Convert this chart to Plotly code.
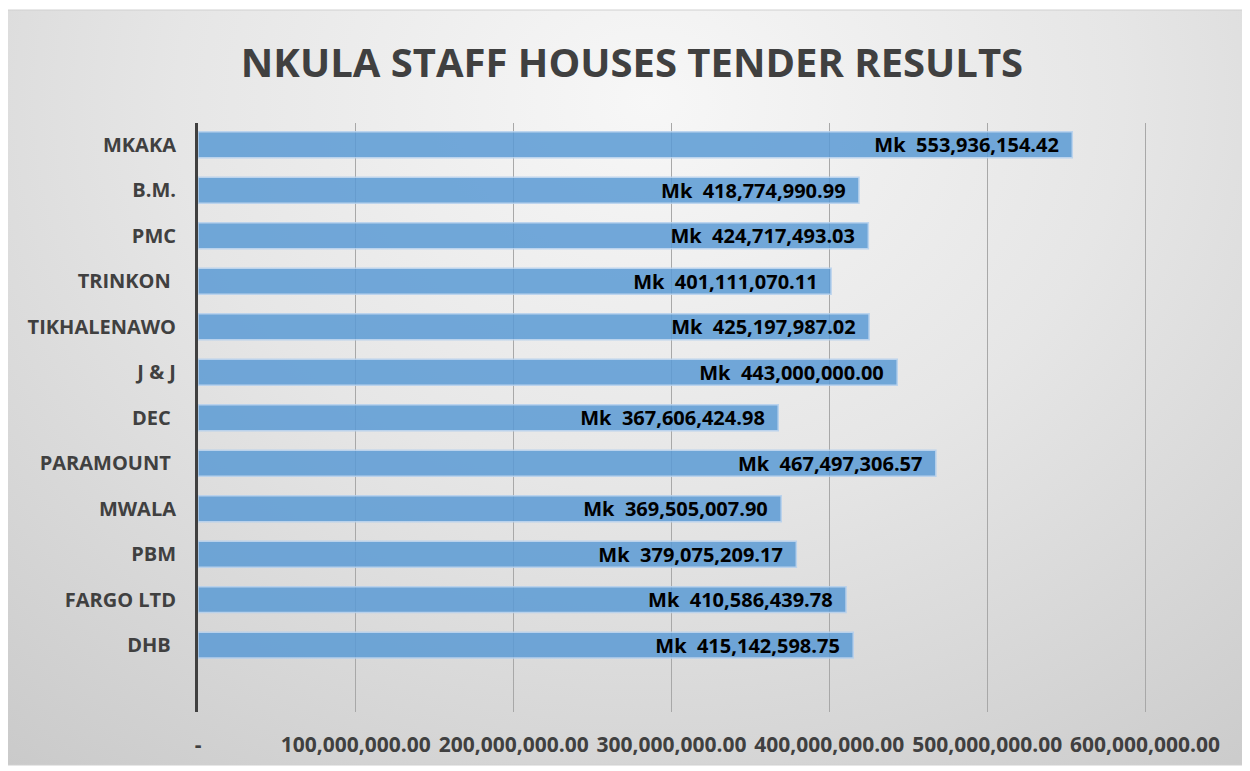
import base64
import plotly.graph_objects as go

# Tender results (Malawi kwacha)
companies = ["MKAKA", "B.M.", "PMC", "TRINKON\u00a0", "TIKHALENAWO", "J & J", "DEC\u00a0",
             "PARAMOUNT\u00a0", "MWALA", "PBM", "FARGO LTD", "DHB\u00a0"]
amounts = [553936154.42, 418774990.99, 424717493.03, 401111070.11, 425197987.02, 443000000.00,
           367606424.98, 467497306.57, 369505007.90, 379075209.17, 410586439.78, 415142598.75]
tick_vals = [0, 100e6, 200e6, 300e6, 400e6, 500e6, 600e6]
tick_text = ["-", "100,000,000.00", "200,000,000.00", "300,000,000.00",
             "400,000,000.00", "500,000,000.00", "600,000,000.00"]

OFF = 8                      # page body margin
W, H = 1250 - OFF, 771 - OFF
# plot area in page pixels
L, R, T, B = 198, 1230, 123, 712
px_per_100m = (1145 - 198) / 6.0


def px_to_paper_x(px):
    return (px - L) / (R - L)


def px_to_paper_y(py):
    return (B - py) / (B - T)


# soft radial grey gradient like the Excel chart area
svg = """<svg xmlns='http://www.w3.org/2000/svg' width='1236' height='755' preserveAspectRatio='none'>
<defs><radialGradient id='g' cx='0.52' cy='0.12' r='0.85' gradientTransform='translate(0.52 0.12) scale(1 1.35) translate(-0.52 -0.12)'>
<stop offset='0' stop-color='#f7f7f7'/><stop offset='0.45' stop-color='#e6e6e6'/>
<stop offset='1' stop-color='#c9c9c9'/></radialGradient></defs>
<rect width='1236' height='755' fill='url(#g)'/></svg>"""
bg_src = "data:image/svg+xml;base64," + base64.b64encode(svg.encode()).decode()

fig = go.Figure()

fig.add_trace(go.Bar(
    y=companies,
    x=amounts,
    orientation='h',
    marker=dict(color='#5b9bd5', opacity=0.85, line=dict(color='#b4d0ee', width=1.5)),
    texttemplate='Mk  %{x:,.2f}\u00a0\u00a0',
    textposition='inside',
    insidetextanchor='end',
    constraintext='none',
    textfont=dict(family='Open Sans', size=20, color='#000000', weight='bold'),
    cliponaxis=False,
    hoverinfo='skip',
))

x0, x1 = 7, 1243
y0, y1 = 10, 765
fig.add_layout_image(dict(
    source=bg_src, xref='paper', yref='paper',
    x=px_to_paper_x(x0), y=px_to_paper_y(y0),
    sizex=px_to_paper_x(x1) - px_to_paper_x(x0),
    sizey=px_to_paper_y(y0) - px_to_paper_y(y1),
    sizing='stretch', layer='below', xanchor='left', yanchor='top',
))
fig.add_shape(type='rect', xref='paper', yref='paper',
              x0=px_to_paper_x(x0), x1=px_to_paper_x(x1),
              y0=px_to_paper_y(y1), y1=px_to_paper_y(y0),
              line=dict(color='#d0d0d0', width=1), layer='below')

x_max = (R - L) / px_per_100m * 100e6
n = len(companies)
fig.update_layout(
    width=W, height=H,
    margin=dict(l=L - OFF, r=1250 - R, t=T - OFF, b=771 - B),
    paper_bgcolor='white',
    plot_bgcolor='rgba(0,0,0,0)',
    showlegend=False,
    bargap=0.43,
    uniformtext=dict(mode=False),
    title=dict(text='<b>NKULA STAFF HOUSES TENDER RESULTS</b>',
               x=(632 - OFF) / W, xanchor='center', xref='container',
               y=1 - (63 - OFF) / H, yanchor='middle', yref='container',
               font=dict(family='Open Sans', size=40, color='#404040')),
    xaxis=dict(range=[0, x_max], tickvals=tick_vals, ticktext=tick_text,
               showgrid=True, gridcolor='#a8a8a8', gridwidth=1,
               zeroline=False, showline=False, ticks='', tickangle=0,
               ticklabelstandoff=18,
               tickfont=dict(family='Open Sans', size=21, color='#404040', weight='bold')),
    yaxis=dict(range=[n + 0.47, -0.48], showgrid=False, zeroline=False,
               showline=True, linecolor='#404040', linewidth=3,
               ticks='', ticklabelstandoff=15,
               tickfont=dict(family='Open Sans', size=20, color='#404040', weight='bold')),
)

fig.write_html("out.html")
